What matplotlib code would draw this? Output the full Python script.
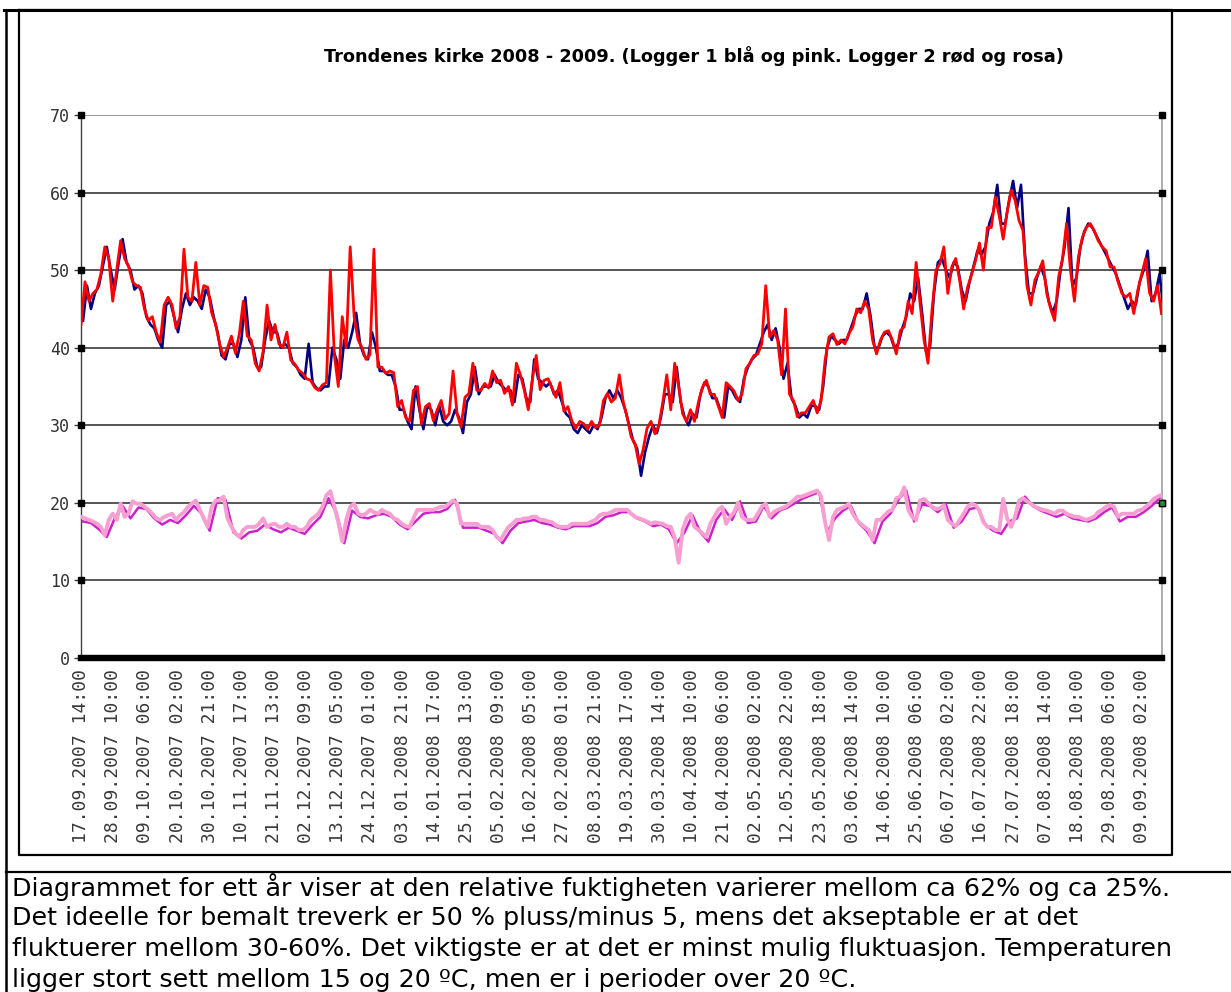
import matplotlib.pyplot as plt
from matplotlib.lines import Line2D

W, H = 1231, 992

title = "Trondenes kirke 2008 - 2009. (Logger 1 blå og pink. Logger 2 rød og rosa)"
caption = [
    "Diagrammet for ett år viser at den relative fuktigheten varierer mellom ca 62% og ca 25%.",
    "Det ideelle for bemalt treverk er 50 % pluss/minus 5, mens det akseptable er at det",
    "fluktuerer mellom 30-60%. Det viktigste er at det er minst mulig fluktuasjon. Temperaturen",
    "ligger stort sett mellom 15 og 20 ºC, men er i perioder over 20 ºC.",
]

tick_labels = [
    "17.09.2007 14:00", "28.09.2007 10:00", "09.10.2007 06:00", "20.10.2007 02:00",
    "30.10.2007 21:00", "10.11.2007 17:00", "21.11.2007 13:00", "02.12.2007 09:00",
    "13.12.2007 05:00", "24.12.2007 01:00", "03.01.2008 21:00", "14.01.2008 17:00",
    "25.01.2008 13:00", "05.02.2008 09:00", "16.02.2008 05:00", "27.02.2008 01:00",
    "08.03.2008 21:00", "19.03.2008 17:00", "30.03.2008 14:00", "10.04.2008 10:00",
    "21.04.2008 06:00", "02.05.2008 02:00", "12.05.2008 22:00", "23.05.2008 18:00",
    "03.06.2008 14:00", "14.06.2008 10:00", "25.06.2008 06:00", "06.07.2008 02:00",
    "16.07.2008 22:00", "27.07.2008 18:00", "07.08.2008 14:00", "18.08.2008 10:00",
    "29.08.2008 06:00", "09.09.2008 02:00",
]
LABEL_EVERY = 260   # hourly readings between category labels
N_HOURS = 8740
STEP = 32           # hours between digitised readings

# relative humidity, logger 2 (red)
rh_logger2 = [
    43.0, 48.5, 46.0, 47.0, 47.5, 49.5, 53.0, 51.5, 46.0, 50.0,
    53.8, 51.5, 50.5, 48.5, 48.0, 47.8, 45.0, 43.5, 44.0, 42.0,
    40.7, 45.5, 46.5, 45.5, 42.5, 44.0, 52.7, 46.5, 46.0, 51.0,
    45.5, 48.0, 47.8, 44.5, 43.0, 40.5, 38.8, 40.0, 41.5, 39.3,
    41.8, 46.0, 41.5, 41.0, 38.0, 37.0, 39.5, 45.5, 41.0, 43.0,
    40.5, 40.0, 42.0, 38.4, 37.9, 37.1, 36.7, 36.0, 35.8, 34.9,
    34.5, 35.2, 35.5, 50.0, 39.1, 35.0, 44.0, 40.0, 53.0, 44.0,
    41.0, 40.0, 38.5, 39.1, 52.7, 37.5, 37.5, 36.7, 37.0, 36.8,
    32.4, 33.2, 31.0, 30.5, 34.5, 35.0, 30.2, 32.4, 32.8, 30.6,
    32.0, 33.2, 30.8, 31.5, 37.0, 31.5, 29.8, 33.6, 34.1, 38.0,
    34.5, 34.5, 35.4, 34.8, 37.0, 35.5, 35.8, 34.1, 35.0, 32.6,
    38.0, 36.5, 34.5, 32.0, 35.8, 39.0, 34.6, 35.8, 36.0, 34.8,
    33.6, 35.5, 31.8, 32.4, 30.6, 29.6, 30.5, 30.2, 29.5, 30.5,
    29.7, 30.0, 33.2, 34.1, 33.0, 33.5, 36.5, 33.0, 31.0, 28.5,
    27.6, 25.0, 26.8, 29.6, 30.5, 28.9, 30.0, 33.0, 36.5, 32.0,
    38.0, 35.0, 31.5, 30.5, 32.0, 30.5, 33.0, 34.9, 35.8, 34.0,
    34.0, 32.5, 31.0, 35.5, 35.0, 34.4, 33.2, 34.0, 37.3, 38.0,
    39.0, 39.2, 40.5, 48.0, 41.4, 42.2, 41.0, 36.5, 45.0, 34.0,
    33.2, 31.1, 31.6, 31.6, 32.4, 33.2, 31.6, 33.2, 38.4, 41.4,
    41.8, 40.4, 41.0, 40.5, 41.8, 42.7, 45.0, 44.5, 46.0, 45.0,
    41.0, 39.2, 41.0, 42.0, 42.2, 41.0, 39.2, 42.2, 42.7, 46.0,
    44.4, 51.0, 45.7, 41.0, 38.0, 44.8, 50.0, 50.8, 53.0, 47.0,
    50.4, 51.5, 48.7, 45.0, 47.8, 49.4, 51.2, 53.5, 50.0, 55.5,
    55.5, 59.4, 57.0, 54.0, 57.5, 60.3, 59.0, 56.4, 55.1, 48.0,
    45.5, 48.7, 49.8, 51.2, 47.0, 45.0, 43.5, 49.1, 51.5, 56.0,
    50.0, 46.0, 51.7, 54.2, 55.5, 56.0, 55.1, 53.8, 53.0, 52.5,
    50.4, 50.4, 48.5, 47.0, 46.5, 47.0, 44.4, 47.4, 49.5, 51.5,
    47.0, 46.0, 48.0, 44.4,
]

# relative humidity, logger 1 (blue), read between the red readings
rh_logger1 = [
    43.5, 48.0, 45.0, 47.0, 48.0, 50.5, 53.0, 50.0, 47.5, 51.0,
    54.0, 51.0, 50.0, 47.5, 48.0, 47.0, 44.0, 43.0, 42.5, 41.0,
    40.0, 45.5, 46.0, 44.0, 42.0, 45.0, 47.0, 45.5, 46.5, 46.0,
    45.0, 47.5, 46.5, 44.0, 42.0, 39.0, 38.5, 40.5, 40.5, 38.8,
    41.0, 46.5, 41.0, 40.0, 37.5, 37.5, 41.0, 43.5, 42.0, 42.0,
    40.0, 40.5, 40.0, 38.0, 37.5, 36.5, 36.0, 40.5, 35.5, 34.8,
    34.5, 35.0, 35.0, 40.0, 38.5, 36.0, 41.0, 40.0, 42.0, 44.5,
    40.5, 39.0, 38.5, 42.0, 40.0, 37.0, 37.0, 36.5, 36.5, 35.0,
    32.0, 32.0, 30.5, 29.5, 35.0, 32.0, 29.5, 32.5, 32.0, 30.0,
    32.5, 30.5, 30.0, 30.5, 32.0, 31.0, 29.0, 33.0, 34.0, 37.5,
    34.0, 35.0, 35.0, 35.0, 36.5, 35.5, 35.0, 34.5, 34.5, 33.0,
    36.5, 36.0, 33.5, 33.0, 38.5, 36.0, 35.5, 35.0, 35.5, 34.0,
    34.5, 33.0, 31.5, 31.0, 29.5, 29.0, 30.0, 29.5, 29.0, 30.0,
    29.5, 31.0, 33.5, 34.5, 33.5, 34.5, 33.5, 32.0, 30.0, 28.0,
    27.0, 23.5, 26.5, 28.5, 30.0, 29.0, 31.0, 34.0, 34.0, 33.0,
    37.5, 33.0, 31.0, 30.0, 31.5, 31.0, 34.0, 35.5, 35.0, 33.5,
    33.5, 32.0, 31.0, 35.0, 34.5, 33.5, 33.0, 36.0, 37.5, 38.5,
    39.0, 40.5, 42.0, 43.0, 41.0, 42.5, 40.0, 36.0, 38.0, 33.5,
    32.5, 31.0, 31.5, 31.0, 32.5, 32.5, 32.0, 35.0, 40.0, 41.5,
    41.0, 40.5, 41.0, 41.0, 42.5, 44.0, 45.0, 45.0, 47.0, 44.0,
    40.0, 40.0, 41.5, 42.0, 41.5, 40.0, 40.5, 42.5, 44.0, 47.0,
    46.0, 49.0, 44.5, 39.5, 40.0, 47.0, 51.0, 51.5, 50.0, 49.0,
    51.0, 50.5, 47.5, 46.0, 48.5, 50.5, 52.5, 52.0, 53.0, 56.0,
    57.5, 61.0, 56.0, 56.0, 59.0, 61.5, 58.0, 61.0, 52.0, 47.0,
    47.0, 49.0, 50.5, 49.0, 46.0, 44.5, 46.0, 50.0, 53.0, 58.0,
    48.0, 49.0, 53.0, 55.0, 56.0, 55.5, 54.5, 53.5, 52.5, 51.5,
    50.5, 49.5, 48.0, 46.5, 45.0, 46.0, 45.5, 48.5, 50.0, 52.5,
    46.0, 47.0, 49.5, 45.0,
]

# temperature, logger 2 (rosa)
temp_logger2 = [
    18.2, 18.0, 17.8, 17.6, 17.3, 16.9, 15.8, 17.8, 18.6, 17.8,
    19.9, 18.2, 18.6, 20.2, 19.9, 19.9, 19.5, 19.1, 18.6, 18.0,
    17.8, 18.2, 18.4, 18.6, 17.8, 18.4, 18.8, 19.5, 19.9, 20.3,
    19.1, 18.0, 16.9, 19.5, 20.3, 20.3, 20.8, 18.0, 16.9, 16.1,
    15.6, 16.5, 16.9, 16.9, 16.9, 17.3, 18.0, 16.9, 17.2, 17.3,
    16.9, 16.9, 17.3, 16.9, 16.9, 16.5, 16.5, 16.9, 17.8, 18.2,
    18.6, 19.5, 21.0, 21.5, 19.5, 17.5, 15.0, 17.8, 19.5, 19.9,
    18.6, 18.4, 18.6, 19.1, 18.8, 18.6, 19.1, 18.8, 18.6, 18.0,
    17.8, 17.3, 17.0, 16.9, 18.0, 19.1, 19.1, 19.1, 19.1, 19.1,
    19.3, 19.5, 19.5, 19.9, 20.3, 19.9, 17.3, 17.3, 17.3, 17.3,
    17.3, 16.9, 16.9, 16.9, 16.5, 15.6, 15.2, 16.1, 16.9, 17.3,
    17.8, 17.8, 18.0, 18.0, 18.2, 18.2, 17.8, 17.8, 17.6, 17.5,
    17.1, 16.9, 16.9, 16.9, 17.3, 17.3, 17.3, 17.3, 17.3, 17.6,
    17.8, 18.4, 18.6, 18.6, 18.8, 19.1, 19.1, 19.1, 19.1, 18.6,
    18.2, 18.0, 17.8, 17.6, 17.3, 17.5, 17.4, 17.3, 17.0, 16.9,
    15.5, 12.3, 16.5, 18.0, 18.6, 16.9, 16.5, 16.1, 15.6, 17.3,
    18.2, 19.1, 19.5, 17.3, 18.2, 18.8, 20.0, 18.2, 17.8, 17.8,
    17.8, 18.6, 19.5, 19.9, 18.2, 18.8, 19.1, 19.3, 19.5, 19.9,
    20.3, 20.8, 20.8, 21.0, 21.2, 21.4, 21.6, 20.8, 17.5, 15.2,
    18.2, 19.1, 19.3, 19.5, 19.9, 18.6, 17.8, 17.3, 16.9, 16.5,
    15.2, 17.8, 17.8, 18.4, 18.9, 19.1, 20.6, 20.8, 22.0, 19.1,
    18.2, 17.8, 20.3, 20.5, 20.0, 19.5, 19.2, 19.3, 19.7, 17.8,
    17.3, 17.0, 17.8, 18.6, 19.5, 19.9, 19.7, 19.0, 17.5, 16.9,
    16.9, 16.5, 16.5, 20.5, 18.0, 16.9, 18.2, 20.3, 20.6, 20.2,
    19.9, 19.5, 19.3, 19.1, 19.0, 18.8, 18.6, 19.0, 19.0, 18.6,
    18.4, 18.2, 18.2, 18.0, 17.8, 18.0, 18.2, 18.8, 19.1, 19.5,
    19.7, 19.5, 18.2, 18.6, 18.6, 18.6, 18.6, 19.0, 19.1, 19.5,
    19.9, 20.5, 20.8, 21.0,
]

# temperature, logger 1 (pink), read every second step
temp_logger1 = [
    17.6, 17.4, 16.6, 15.6, 18.0, 19.6, 18.0, 19.4, 19.2, 18.0,
    17.2, 17.8, 17.4, 18.4, 19.6, 18.6, 16.4, 20.6, 20.4, 16.2,
    15.4, 16.2, 16.4, 17.2, 16.6, 16.2, 16.8, 16.4, 16.0, 17.2,
    18.2, 20.6, 18.8, 14.8, 19.0, 18.2, 18.0, 18.4, 18.6, 18.2,
    17.2, 16.6, 17.6, 18.6, 18.8, 18.8, 19.2, 20.4, 16.8, 16.8,
    16.8, 16.4, 16.0, 14.8, 16.4, 17.4, 17.6, 17.8, 17.4, 17.2,
    16.8, 16.6, 17.0, 17.0, 17.0, 17.4, 18.2, 18.4, 18.8, 18.8,
    18.0, 17.6, 17.0, 17.2, 16.6, 14.8, 16.2, 18.4, 16.2, 15.0,
    17.8, 19.2, 17.8, 20.2, 17.4, 17.6, 19.6, 18.0, 19.0, 19.4,
    20.0, 20.6, 21.0, 21.4, 16.2, 18.0, 19.0, 19.6, 17.4, 16.4,
    14.8, 17.6, 18.6, 20.4, 21.6, 17.6, 19.8, 19.6, 18.8, 19.8,
    16.8, 17.6, 19.2, 19.4, 17.2, 16.4, 16.0, 17.6, 18.0, 20.8,
    19.6, 19.0, 18.6, 18.2, 18.6, 18.0, 17.8, 17.6, 18.0, 18.8,
    19.4, 17.6, 18.2, 18.2, 18.8, 19.6, 20.6,
]

hours2 = [STEP * i for i in range(len(rh_logger2))]
hours1 = [STEP * i + STEP // 2 for i in range(len(rh_logger1))]
hours_t1 = [2 * STEP * i + STEP // 2 for i in range(len(temp_logger1))]


def fx(x):
    return x / W


def fy(y):
    return 1 - y / H


fig = plt.figure(figsize=(W / 100, H / 100), dpi=100)
fig.patch.set_facecolor("white")

# table / chart frame
frame = dict(color="black", transform=fig.transFigure)
fig.add_artist(Line2D([fx(4), fx(W)], [fy(10), fy(10)], lw=2.2, **frame))
fig.add_artist(Line2D([fx(6), fx(6)], [fy(10), fy(H)], lw=1.8, **frame))
fig.add_artist(Line2D([fx(19), fx(19), fx(1172), fx(1172), fx(19)],
                      [fy(10), fy(855), fy(855), fy(10), fy(10)], lw=1.6, **frame))
fig.add_artist(Line2D([fx(6), fx(W)], [fy(872), fy(872)], lw=1.6, **frame))

ax = fig.add_axes([fx(81), fy(658), fx(1162) - fx(81), fy(115) - fy(658)])
ax.set_facecolor("white")

for v in range(10, 70, 10):
    ax.axhline(v, color="#3a3a3a", lw=1.2, zorder=1)
ax.axhline(70, color="#8a8a8a", lw=1.2, zorder=1)

ax.plot(hours1, rh_logger1, color="#000080", lw=1.9, zorder=3)
ax.plot(hours2, rh_logger2, color="#ff0000", lw=2.0, zorder=4)
ax.plot(hours_t1, temp_logger1, color="#cc22cc", lw=1.8, zorder=3)
ax.plot(hours2, temp_logger2, color="#f79fd0", lw=2.8, zorder=4)

# little square markers at the gridline ends, as in the original
yt = list(range(10, 80, 10))
ax.plot([0] * len(yt), yt, "s", ms=4, color="black", transform=ax.get_yaxis_transform(),
        clip_on=False, zorder=6)
ax.plot([1] * len(yt), yt, "s", ms=4, color="black", transform=ax.get_yaxis_transform(),
        clip_on=False, zorder=6)
ax.plot([1], [20], "s", ms=4, mfc="#2e8b3e", mec="black", transform=ax.get_yaxis_transform(),
        clip_on=False, zorder=7)

ax.set_xlim(-0.5, N_HOURS)
ax.set_ylim(0, 70)

ax.spines["top"].set_visible(False)
ax.spines["left"].set_color("#404040")
ax.spines["left"].set_linewidth(1.0)
ax.spines["right"].set_color("#a0a0a0")
ax.spines["right"].set_linewidth(1.2)
ax.spines["bottom"].set_color("black")
ax.spines["bottom"].set_linewidth(4.6)
ax.spines["bottom"].set_zorder(8)

ax.set_yticks(range(0, 80, 10))
ax.set_yticklabels([str(v) for v in range(0, 80, 10)], fontsize=12,
                   family="DejaVu Sans Mono", color="#333333")
ax.tick_params(axis="y", length=5, width=1, color="#404040", pad=3)

ax.set_xticks([LABEL_EVERY * i for i in range(len(tick_labels))])
ax.set_xticklabels(tick_labels, rotation=90, fontsize=13,
                   family="DejaVu Sans Mono", color="#3a3a3a")
ax.tick_params(axis="x", length=0, pad=8)

fig.text(fx(694), fy(56), title, ha="center", va="center", fontsize=12.8,
         fontweight="bold", family="DejaVu Sans", color="black")

for i, line in enumerate(caption):
    fig.text(fx(12), fy(887 + 31 * i), line, ha="left", va="center", fontsize=18.3,
             family="DejaVu Sans", color="black")

fig.savefig("out.png", dpi=100, facecolor="white")
